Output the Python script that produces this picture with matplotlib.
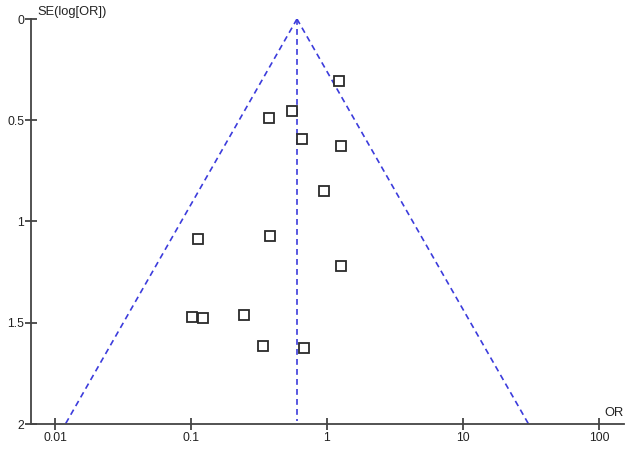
import numpy as np
import matplotlib
matplotlib.use("Agg")
import matplotlib.pyplot as plt

# Study data
odds_ratio = [1.23, 0.553, 0.373, 0.655, 1.27, 0.95, 0.112, 0.383, 1.27,
              0.1017, 0.122, 0.245, 0.338, 0.674]
se_log_or = [0.306, 0.454, 0.489, 0.591, 0.626, 0.848, 1.086, 1.070, 1.218,
             1.473, 1.478, 1.462, 1.615, 1.626]
pooled_or = 0.602
x_ticks = [0.01, 0.1, 1, 10, 100]
x_tick_labels = ["0.01", "0.1", "1", "10", "100"]
y_ticks = [0, 0.5, 1, 1.5, 2]
y_tick_labels = ["0", "0.5", "1", "1.5", "2"]

plt.rcParams['font.family'] = ['Liberation Sans', 'DejaVu Sans']

fig = plt.figure(figsize=(6.4, 4.61), dpi=100)
ax = fig.add_axes([31/640, 1-424/461, (624-31)/640, (424-19)/461])

blue = '#3c3cdc'
se_max = 2.0
se_line = np.array([0.0, se_max])
lp = np.log(pooled_or)
ax.plot(np.exp(lp - 1.96 * se_line), se_line, color=blue, ls=(0, (3.5, 2.5)), lw=1.2)
ax.plot(np.exp(lp + 1.96 * se_line), se_line, color=blue, ls=(0, (3.5, 2.5)), lw=1.2)
ax.plot([pooled_or, pooled_or], [0, 1.985], color=blue, ls=(0, (3.5, 2.5)), lw=1.2)

ax.plot(odds_ratio, se_log_or, ls='none', marker='s', markersize=6.6,
        markerfacecolor='white', markeredgecolor='#2a2a2a', markeredgewidth=1.3)

ax.set_xscale('log')
ax.set_xlim(10**-2.176, 10**2.184)
ax.set_ylim(2, 0)
ax.set_xticks(x_ticks)
ax.set_xticklabels(x_tick_labels)
ax.set_xticks([], minor=True)
ax.set_yticks(y_ticks)
ax.set_yticklabels(y_tick_labels)

for s in ['top', 'right']:
    ax.spines[s].set_visible(False)
for s in ['left', 'bottom']:
    ax.spines[s].set_color('#444444')
    ax.spines[s].set_linewidth(1.3)
ax.tick_params(axis='both', direction='inout', length=8, width=1.3,
               color='#444444', labelsize=8.8, labelcolor='#222222', pad=2)
ax.tick_params(axis='y', pad=1)

fig.text(37/640, 1-12/461, "SE(log[OR])", fontsize=9.3, color='#222222',
         ha='left', va='center')
fig.text(604/640, 1-413/461, "OR", fontsize=9.3, color='#222222',
         ha='left', va='center')

fig.savefig("out.png", dpi=100)
